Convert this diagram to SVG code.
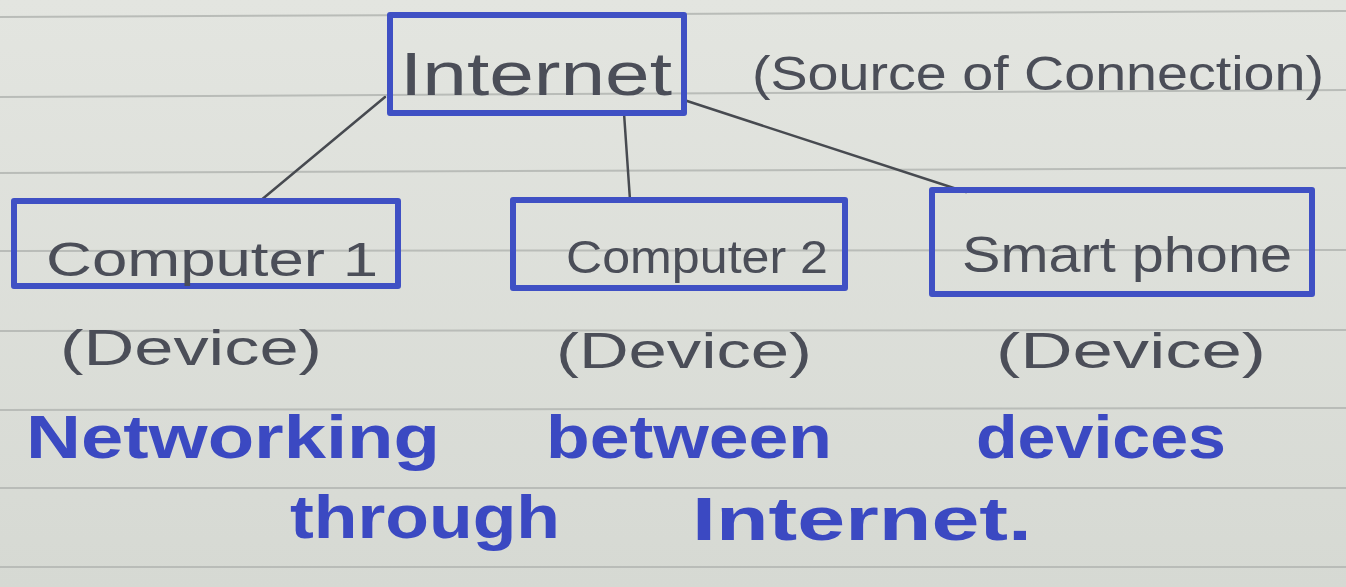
<svg xmlns="http://www.w3.org/2000/svg" width="1346" height="587" viewBox="0 0 1346 587">
<style>
.rule{stroke:#b9bcb8;stroke-width:2}
.box{fill:none;stroke:#3f50c4;stroke-width:6;stroke-linejoin:round}
.pen{font-family:"Liberation Sans",Arial,sans-serif;fill:#4b4e58}
.ink{font-family:"Liberation Sans",Arial,sans-serif;fill:#3b49c2;font-weight:bold}
.con{stroke:#474a50;stroke-width:2.5;fill:none;stroke-linecap:round}
</style>
<defs>
<linearGradient id="bg" x1="0" y1="0" x2="0" y2="1">
<stop offset="0" stop-color="#e3e5e0"/>
<stop offset="1" stop-color="#d6d9d3"/>
</linearGradient>
</defs>
<rect width="1346" height="587" fill="url(#bg)"/>
<g id="paper-rules">
<line class="rule" x1="0" y1="17" x2="1346" y2="11"/>
<line class="rule" x1="0" y1="97" x2="1346" y2="90"/>
<line class="rule" x1="0" y1="173" x2="1346" y2="168"/>
<line class="rule" x1="0" y1="251" x2="1346" y2="250"/>
<line class="rule" x1="0" y1="331" x2="1346" y2="330"/>
<line class="rule" x1="0" y1="410" x2="1346" y2="408"/>
<line class="rule" x1="0" y1="488" x2="1346" y2="488"/>
<line class="rule" x1="0" y1="567" x2="1346" y2="567"/>
</g>
<g id="connectors">
<path class="con" d="M385 97 L260 201"/>
<path class="con" d="M624 113 L630 200"/>
<path class="con" d="M684 100 L966 192"/>
</g>
<g id="node-internet">
<rect class="box" x="390" y="15" width="294" height="98"/>
<text class="pen" x="400" y="95" font-size="62" textLength="272" lengthAdjust="spacingAndGlyphs">Internet</text>
</g>
<g id="label-source">
<text class="pen" x="752" y="90" font-size="48" textLength="572" lengthAdjust="spacingAndGlyphs">(Source of Connection)</text>
</g>
<g id="node-computer1">
<rect class="box" x="14" y="201" width="384" height="85"/>
<text class="pen" x="46" y="276" font-size="48" textLength="332" lengthAdjust="spacingAndGlyphs">Computer 1</text>
<text class="pen" x="60" y="365" font-size="50" textLength="262" lengthAdjust="spacingAndGlyphs">(Device)</text>
</g>
<g id="node-computer2">
<rect class="box" x="513" y="200" width="332" height="88"/>
<text class="pen" x="566" y="273" font-size="46" textLength="262" lengthAdjust="spacingAndGlyphs">Computer 2</text>
<text class="pen" x="556" y="368" font-size="50" textLength="256" lengthAdjust="spacingAndGlyphs">(Device)</text>
</g>
<g id="node-smartphone">
<rect class="box" x="932" y="190" width="380" height="104"/>
<text class="pen" x="962" y="272" font-size="50" textLength="330" lengthAdjust="spacingAndGlyphs">Smart phone</text>
<text class="pen" x="996" y="368" font-size="50" textLength="270" lengthAdjust="spacingAndGlyphs">(Device)</text>
</g>
<g id="caption">
<text class="ink" x="26" y="458" font-size="62" textLength="414" lengthAdjust="spacingAndGlyphs">Networking</text>
<text class="ink" x="546" y="458" font-size="62" textLength="286" lengthAdjust="spacingAndGlyphs">between</text>
<text class="ink" x="976" y="458" font-size="62" textLength="250" lengthAdjust="spacingAndGlyphs">devices</text>
<text class="ink" x="290" y="538" font-size="62" textLength="270" lengthAdjust="spacingAndGlyphs">through</text>
<text class="ink" x="692" y="540" font-size="62" textLength="340" lengthAdjust="spacingAndGlyphs">Internet.</text>
</g>
</svg>
